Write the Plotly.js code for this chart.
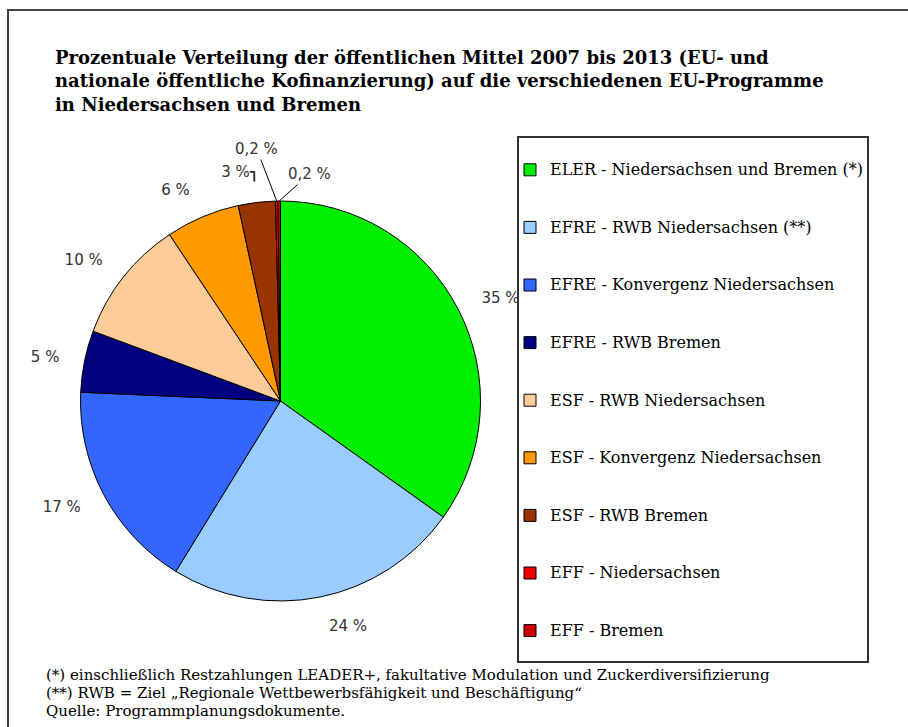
<!DOCTYPE html>
<html>
<head>
<meta charset="utf-8">
<script src="https://cdn.plot.ly/plotly-3.0.1.min.js"></script>
<style>html,body{margin:0;padding:0;background:#fff;}#chart{width:908px;height:727px;}</style>
</head>
<body>
<div id="chart"></div>
<script>
const programmes = [
  "ELER - Niedersachsen und Bremen (*)",
  "EFRE - RWB Niedersachsen (**)",
  "EFRE - Konvergenz Niedersachsen",
  "EFRE - RWB Bremen",
  "ESF - RWB Niedersachsen",
  "ESF - Konvergenz Niedersachsen",
  "ESF - RWB Bremen",
  "EFF - Niedersachsen",
  "EFF - Bremen"
];
const shares = [35, 24, 17, 5, 10, 6, 3, 0.2, 0.2];
const sliceColors = ["#00ee00", "#99ccff", "#3366ff", "#000080", "#ffcc99", "#ff9900", "#993300", "#ee0000", "#cc0000"];
const titleText = "Prozentuale Verteilung der öffentlichen Mittel 2007 bis 2013 (EU- und<br>nationale öffentliche Kofinanzierung) auf die verschiedenen EU-Programme<br>in Niedersachsen und Bremen";
const footnotes = [
  "(*) einschließlich Restzahlungen LEADER+, fakultative Modulation und Zuckerdiversifizierung",
  "(**) RWB = Ziel \u201eRegionale Wettbewerbsfähigkeit und Beschäftigung\u201c",
  "Quelle: Programmplanungsdokumente."
];

const W = 908, H = 727;
const px = x => x / W;
const py = y => 1 - y / H;

// pie geometry (pixels)
const CX = 280.5, CY = 401, R = 200, RLAB = 221;

const pctText = shares.map(v => String(v).replace('.', ',') + ' %');
const tiny = shares.map(v => v < 1);
const legendLabels = programmes.map(p => '\u00a0<br><span style="font-size:16px">' + p + '</span><br>\u00a0');

// label carrier (transparent, slightly larger) so the percentages sit further out
const labelTrace = {
  type: 'pie',
  labels: legendLabels,
  values: shares,
  text: pctText.map((t, i) => tiny[i] ? '' : t),
  textinfo: 'text',
  textposition: 'outside',
  sort: false, direction: 'clockwise', rotation: 0,
  marker: {colors: shares.map(() => 'rgba(0,0,0,0)'), line: {width: 0}},
  outsidetextfont: {family: 'DejaVu Sans', size: 15, color: '#333'},
  domain: {x: [px(CX - RLAB), px(CX + RLAB)], y: [py(CY + RLAB), py(CY - RLAB)]},
  showlegend: false,
  hoverinfo: 'none'
};

const pieTrace = {
  type: 'pie',
  labels: legendLabels,
  values: shares,
  textinfo: 'none',
  sort: false, direction: 'clockwise', rotation: 0,
  marker: {colors: sliceColors, line: {color: '#000', width: 1}},
  domain: {x: [px(CX - R), px(CX + R)], y: [py(CY + R), py(CY - R)]},
  hoverinfo: 'none'
};

// leader-line labels for the tiny slices, anchored at the slice's mid-angle on the rim
const total = shares.reduce((a, b) => a + b, 0);
const offsets = [[-20, -52], [30, -27]];
const tinyAnns = [];
let cum = 0, k = 0;
shares.forEach((v, i) => {
  const mid = (cum + v / 2) / total * 2 * Math.PI;
  cum += v;
  if (!tiny[i]) return;
  const ex = CX + R * Math.sin(mid), ey = CY - R * Math.cos(mid);
  const [ax, ay] = offsets[k++];
  tinyAnns.push({
    xref: 'paper', yref: 'paper', x: px(ex), y: py(ey),
    ax: ax, ay: ay, showarrow: true, arrowhead: 0, arrowwidth: 1, arrowcolor: '#000',
    standoff: 0, startstandoff: 0,
    text: pctText[i], font: {family: 'DejaVu Sans', size: 15, color: '#333'}
  });
});

const annotations = footnotes.map((t, i) => ({
  xref: 'paper', yref: 'paper', x: px(44), y: py(675 + i * 18),
  xanchor: 'left', yanchor: 'middle', showarrow: false, text: t,
  font: {family: 'DejaVu Serif', size: 15, color: '#000'}
})).concat(tinyAnns);

const layout = {
  width: W, height: H,
  margin: {l: 0, r: 0, t: 0, b: 0},
  paper_bgcolor: '#fff',
  showlegend: true,
  title: {
    text: titleText,
    x: px(55), xanchor: 'left', xref: 'paper',
    y: py(64), yanchor: 'top', yref: 'paper',
    font: {family: 'DejaVu Serif', size: 18, color: '#000', weight: 'bold'}
  },
  legend: {
    x: px(510), xanchor: 'left', y: py(136), yanchor: 'top',
    bgcolor: 'rgba(0,0,0,0)', borderwidth: 0,
    font: {family: 'DejaVu Serif', size: 14, color: '#000'},
    itemwidth: 30, valign: 'middle'
  },
  shapes: [
    {type: 'rect', xref: 'paper', yref: 'paper', x0: px(8), y0: py(10), x1: 1.02, y1: -0.02,
     line: {color: '#444', width: 2}, fillcolor: 'rgba(0,0,0,0)'},
    {type: 'rect', xref: 'paper', yref: 'paper', x0: px(518), y0: py(137), x1: px(868), y1: py(662),
     line: {color: '#333', width: 2}, fillcolor: 'rgba(0,0,0,0)'}
  ],
  annotations: annotations
};

Plotly.newPlot('chart', [labelTrace, pieTrace], layout, {displayModeBar: false, staticPlot: true});
</script>
</body>
</html>
